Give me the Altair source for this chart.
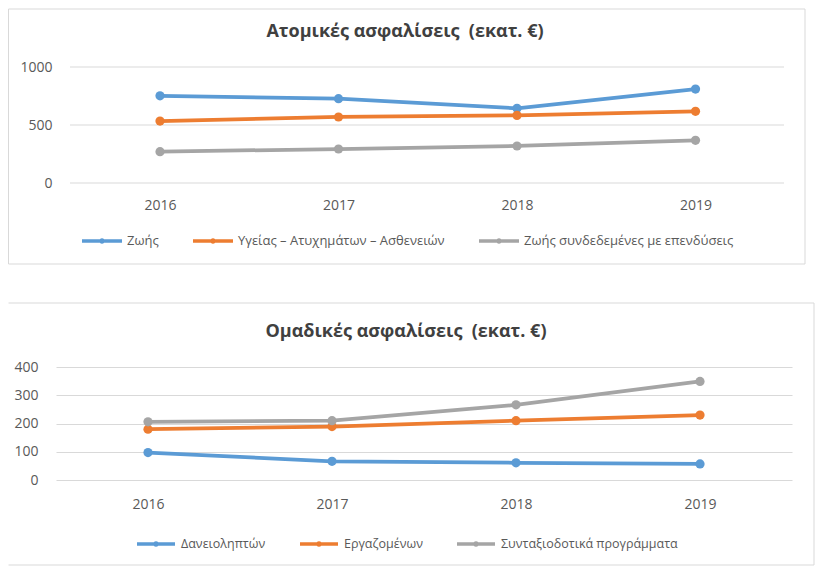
import altair as alt
import pandas as pd

# ---------------- data ----------------
years = ["2016", "2017", "2018", "2019"]

top_title = "Ατομικές ασφαλίσεις\u00a0\u00a0(εκατ. €)"
top_series = ["Ζωής", "Υγείας – Ατυχημάτων – Ασθενειών", "Ζωής συνδεδεμένες με επενδύσεις"]
top_life = [752, 727, 644, 810]
top_health = [534, 569, 583, 618]
top_unit_linked = [270, 293, 319, 368]
top_ticks = [0, 500, 1000]

bottom_title = "Ομαδικές ασφαλίσεις\u00a0\u00a0(εκατ. €)"
bottom_series = ["Δανειοληπτών", "Εργαζομένων", "Συνταξιοδοτικά προγράμματα"]
bottom_borrowers = [97, 66, 61, 57]
bottom_employees = [180, 189, 210, 230]
bottom_pension = [206, 210, 266, 349]
bottom_ticks = [0, 100, 200, 300, 400]

colors = ["#5B9BD5", "#ED7D31", "#A5A5A5"]

FONT = "Open Sans"
LEGEND_SYMBOL = "M-1,0L1,0M0.05,0A0.05,0.05,0,1,1,-0.05,0A0.05,0.05,0,1,1,0.05,0"
GRID = "#D9D9D9"


def long_df(series, values_lists):
    rows = []
    for name, vals in zip(series, values_lists):
        for yr, v in zip(years, vals):
            rows.append({"year": yr, "series": name, "value": v})
    return pd.DataFrame(rows)


def panel(df, series, title, ydomain, yticks, W, H, box, title_xy, legend_xy,
          legend_font, sym_size, label_offset, col_pad, x_label_pad, y_label_pad,
          x_pad, x_align, grid_x=None, full_box=True):
    base = alt.Chart(df)
    x = alt.X("year:O", sort=years,
              scale=alt.Scale(type="point", padding=x_pad, align=x_align),
              axis=alt.Axis(title=None, labelAngle=0, grid=False, domain=False,
                            ticks=False, labelPadding=x_label_pad))
    own_grid = grid_x is not None
    yscale = alt.Scale(domain=ydomain, nice=False, zero=True)
    yaxis = alt.Axis(title=None, values=yticks, grid=not own_grid, domain=False,
                     ticks=False, labelPadding=y_label_pad, format="d")
    y = alt.Y("value:Q", scale=yscale, axis=yaxis)
    legend = alt.Legend(title=None, orient="none", legendX=legend_xy[0], legendY=legend_xy[1],
                        direction="horizontal", symbolType=LEGEND_SYMBOL,
                        symbolSize=sym_size, symbolStrokeWidth=3.5,
                        labelOffset=label_offset, columnPadding=col_pad,
                        labelLimit=500, labelFont=FONT, labelFontSize=legend_font,
                        labelColor="#595959")
    color_leg = alt.Color("series:N", sort=series,
                          scale=alt.Scale(domain=series, range=colors), legend=legend)
    color_nol = alt.Color("series:N", sort=series,
                          scale=alt.Scale(domain=series, range=colors), legend=None)

    layers = []
    l, t, r, b = box
    one = pd.DataFrame({"k": [0]})
    if full_box:
        layers.append(alt.Chart(one).mark_rect(fill=None, stroke=GRID, strokeWidth=1).encode(
            x=alt.value(l), x2=alt.value(r), y=alt.value(t), y2=alt.value(b)))
    else:
        for enc in (dict(x=alt.value(l), x2=alt.value(r), y=alt.value(t)),
                    dict(x=alt.value(l), x2=alt.value(r), y=alt.value(b)),
                    dict(x=alt.value(r), y=alt.value(t), y2=alt.value(b))):
            layers.append(alt.Chart(one).mark_rule(color=GRID, strokeWidth=1).encode(**enc))

    if own_grid:
        layers.append(alt.Chart(pd.DataFrame({"value": yticks})).mark_rule(
            color=GRID, strokeWidth=1).encode(
            y=alt.Y("value:Q", scale=yscale, axis=yaxis),
            x=alt.value(grid_x[0]), x2=alt.value(grid_x[1])))

    layers.append(base.mark_line(strokeWidth=3.75).encode(x=x, y=y, color=color_leg))
    layers.append(base.mark_circle(size=85, opacity=1).encode(x=x, y=y, color=color_nol))

    layers.append(alt.Chart(pd.DataFrame({"t": [title]})).mark_text(
        font=FONT, fontSize=18, fontWeight="bold", color="#404040",
        align="center", baseline="middle").encode(
        text="t:N", x=alt.value(title_xy[0]), y=alt.value(title_xy[1])))

    return alt.layer(*layers).properties(width=W, height=H)


top_df = long_df(top_series, [top_life, top_health, top_unit_linked])
bottom_df = long_df(bottom_series, [bottom_borrowers, bottom_employees, bottom_pension])

# common plot origin x = 56 for both panels
top = panel(top_df, top_series, top_title, [0, 1000], top_ticks,
            W=728, H=116, box=(-47.5, -58, 749, 197),
            title_xy=(349, -35), legend_xy=(24, 152), legend_font=13,
            sym_size=1600, label_offset=3, col_pad=27, x_label_pad=15, y_label_pad=4,
            x_pad=0.5392, x_align=0.5403, grid_x=(14, 728))

bottom = panel(bottom_df, bottom_series, bottom_title, [0, 400], bottom_ticks,
               W=736, H=113, box=(-47.5, -64, 758, 198),
               title_xy=(350, -35), legend_xy=(79, 156), legend_font=12.5,
               sym_size=1444, label_offset=4, col_pad=27, x_label_pad=17, y_label_pad=18,
               x_pad=0.5, x_align=0.5, full_box=False)

chart = alt.vconcat(top, bottom, spacing=37).resolve_scale(color="independent").configure(
    padding=0, background="white", font=FONT
).configure_view(stroke=None).configure_axis(
    labelFont=FONT, labelFontSize=14, labelColor="#595959",
    gridColor=GRID, gridWidth=1
)

chart.save("out.html", embed_options={"renderer": "svg", "actions": False})
